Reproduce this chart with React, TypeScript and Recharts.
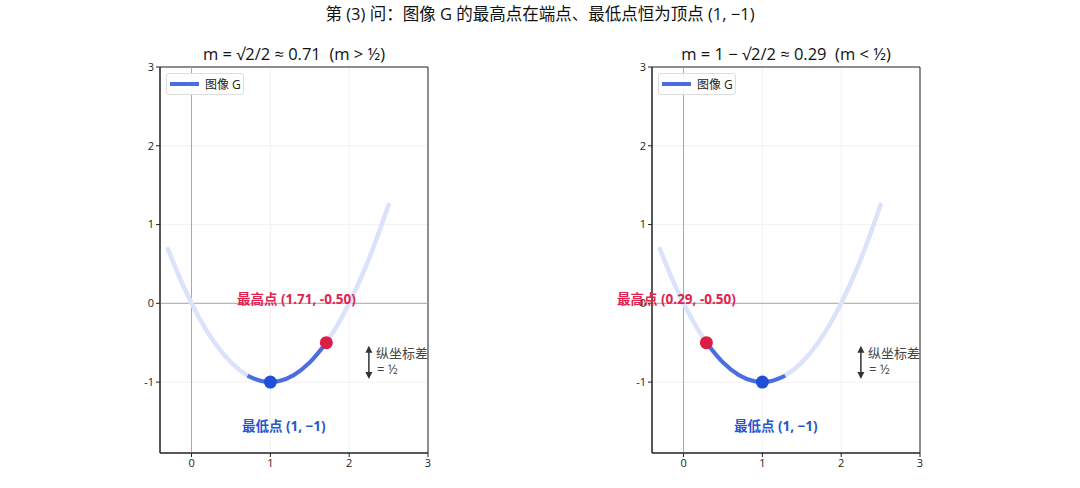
import React from 'react';
import {
  ComposedChart,
  Line,
  Scatter,
  XAxis,
  YAxis,
  CartesianGrid,
  ReferenceLine,
  ReferenceArea,
  ReferenceDot,
} from 'recharts';

// faint full curve of y = (x-1)^2 - 1
const curveX = [-0.3, -0.1, 0.1, 0.3, 0.5, 0.7, 0.9, 1.0, 1.1, 1.3, 1.5, 1.7, 1.9, 2.1, 2.3, 2.5];
const curveY = [0.69, 0.21, -0.19, -0.51, -0.75, -0.91, -0.99, -1.0, -0.99, -0.91, -0.75, -0.51, -0.19, 0.21, 0.69, 1.25];

// highlighted part (image G) for each panel
const leftX = [0.71, 0.9, 1.0, 1.1, 1.3, 1.5, 1.71];
const leftY = [-0.92, -0.99, -1.0, -0.99, -0.91, -0.75, -0.5];
const rightX = [0.29, 0.5, 0.7, 0.9, 1.0, 1.1, 1.29];
const rightY = [-0.5, -0.75, -0.91, -0.99, -1.0, -0.99, -0.92];

const maxPoints = [{ x: 1.71, y: -0.5 }, { x: 0.29, y: -0.5 }];
const maxLabels = ['最高点 (1.71, -0.50)', '最高点 (0.29, -0.50)'];
const minPoint = { x: 1, y: -1 };
const minLabel = '最低点 (1, −1)';
const titles = ['m = √2/2 ≈ 0.71  (m > ½)', 'm = 1 − √2/2 ≈ 0.29  (m < ½)'];
const mainTitle = '第 (3) 问：图像 G 的最高点在端点、最低点恒为顶点 (1, −1)';

const xTicks = [0, 1, 2, 3];
const yTicks = [-1, 0, 1, 2, 3];

const toPts = (xs: number[], ys: number[]) => xs.map((x, i) => ({ x, y: ys[i] }));
const curve = toPts(curveX, curveY);
const highlights = [toPts(leftX, leftY), toPts(rightX, rightY)];

const FONT = "'Open Sans', 'Noto Sans CJK SC', 'DejaVu Sans', sans-serif";
const W = 460;
const H = 488;

const textShape = (txt: string, color: string) => (p: any) => (
  <text x={p.cx} y={p.cy} textAnchor="middle" dominantBaseline="central"
    fill={color} fontSize={13.5} fontWeight={700}>{txt}</text>
);

const arrowHead = (up: boolean) => (p: any) => (
  <path
    d={up
      ? `M${p.cx},${p.cy} L${p.cx - 3.5},${p.cy + 7} L${p.cx + 3.5},${p.cy + 7} Z`
      : `M${p.cx},${p.cy} L${p.cx - 3.5},${p.cy - 7} L${p.cx + 3.5},${p.cy - 7} Z`}
    fill="#333"
  />
);

const noteShape = (p: any) => (
  <g fill="#444">
    <text x={p.cx} y={p.cy - 2} fontSize={13} dominantBaseline="central">纵坐标差</text>
    <text x={p.cx + 1} y={p.cy + 14} fontSize={13} dominantBaseline="central">{'=  ½'}</text>
  </g>
);

function Panel({ idx }: { idx: number }) {
  const mp = maxPoints[idx];
  return (
    <div style={{ position: 'absolute', left: idx === 0 ? 0 : 492, top: 0, width: W, height: H }}>
      <div style={{ position: 'absolute', left: 60, width: 468, top: 42, textAlign: 'center', fontSize: 16.5, color: '#111', whiteSpace: 'pre' }}>
        {titles[idx]}
      </div>
      <ComposedChart width={W} height={H} margin={{ top: 67, right: 32, left: 130, bottom: 5 }}>
        <CartesianGrid stroke="#efefef" strokeWidth={0.8} />
        <XAxis type="number" dataKey="x" domain={[-0.4, 3]} ticks={xTicks} allowDataOverflow
          height={30} tick={{ fontSize: 11, fill: '#222' }} stroke="#222" tickSize={4} />
        <YAxis type="number" dataKey="y" domain={[-1.9, 3]} ticks={yTicks} allowDataOverflow
          width={30} tick={{ fontSize: 11, fill: '#222' }} stroke="#222" tickSize={4} />
        <ReferenceLine x={0} stroke="#a8a8a8" strokeWidth={1} />
        <ReferenceLine y={0} stroke="#a8a8a8" strokeWidth={1} />
        <Line data={curve} dataKey="y" type="monotone" stroke="#dbe3fa" strokeWidth={4.5}
          dot={false} isAnimationActive={false} strokeLinecap="round" />
        <Line data={highlights[idx]} dataKey="y" type="monotone" stroke="#4a6ee0" strokeWidth={4}
          dot={false} isAnimationActive={false} strokeLinecap="butt" />
        <Scatter data={[mp]} fill="#dc1e44" shape={(p: any) => <circle cx={p.cx} cy={p.cy} r={6.5} fill="#dc1e44" />} isAnimationActive={false} />
        <Scatter data={[minPoint]} fill="#1f4fd6" shape={(p: any) => <circle cx={p.cx} cy={p.cy} r={6.5} fill="#1f4fd6" />} isAnimationActive={false} />
        <ReferenceDot x={mp.x - 0.38} y={0.06} r={0} shape={textShape(maxLabels[idx], '#e0244f')} />
        <ReferenceDot x={1.17} y={-1.56} r={0} shape={textShape(minLabel, '#2457d0')} />
        <ReferenceLine segment={[{ x: 2.25, y: -0.6 }, { x: 2.25, y: -0.9 }]} stroke="#333" strokeWidth={1.5} />
        <ReferenceDot x={2.25} y={-0.54} r={0} shape={arrowHead(true)} />
        <ReferenceDot x={2.25} y={-0.96} r={0} shape={arrowHead(false)} />
        <ReferenceDot x={2.34} y={-0.66} r={0} shape={noteShape} />
        <ReferenceArea x1={-0.4} x2={3} y1={-1.9} y2={3} fill="none" stroke="#222" strokeWidth={1} />
      </ComposedChart>
      <div style={{
        position: 'absolute', left: 166, top: 73, width: 78, height: 22, boxSizing: 'border-box',
        background: 'rgba(255,255,255,0.9)', border: '1px solid #ddd', borderRadius: 3,
        display: 'flex', alignItems: 'center', fontSize: 12, color: '#222',
      }}>
        <span style={{ display: 'inline-block', width: 29, height: 4, background: '#4a6ee0', marginLeft: 3, marginRight: 6 }} />
        图像 G
      </div>
    </div>
  );
}

export default function App() {
  return (
    <div style={{ position: 'fixed', left: 0, top: 0, width: 1080, height: 488, background: '#fff', fontFamily: FONT }}>
      <div style={{ position: 'absolute', left: 0, width: 1080, top: 1, textAlign: 'center', fontSize: 16.5, color: '#111' }}>
        {mainTitle}
      </div>
      <Panel idx={0} />
      <Panel idx={1} />
    </div>
  );
}
